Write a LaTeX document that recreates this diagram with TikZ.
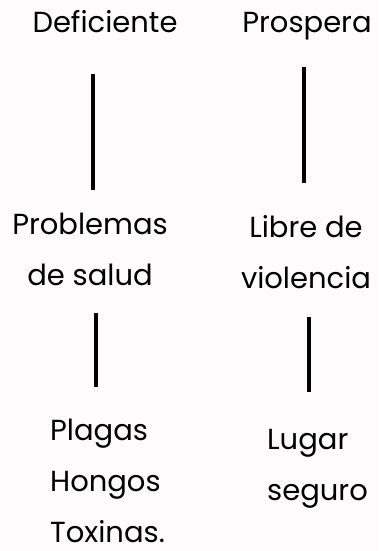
\documentclass[tikz,border=0pt]{standalone}
\usepackage{fontspec}
\setmainfont{Poppins}
\usepackage{tikz}
\definecolor{fondo}{HTML}{FFFBFC}

\begin{document}
\begin{tikzpicture}[x=1pt,y=-1pt,
				texto/.style={anchor=base,inner sep=0,font=\fontsize{29}{51}\selectfont},
				barra/.style={line width=4}]
				\fill[fondo] (0,0) rectangle (378,551);
				
				% la base es la de la ultima linea
				\node[texto] (deficiente) at (105,33) {Deficiente};
				\node[texto] (prospera) at (307,33) {Prospera};
				\node[texto,align=center] (problemas) at (90,285) {Problemas\\de salud};
				\node[texto,align=center] (libre) at (306,288) {Libre de\\violencia};
				\node[texto,align=left,anchor=base west] (plagas) at (50,542) {Plagas\\Hongos\\Toxinas.};
				\node[texto,align=left,anchor=base west] (lugar) at (267,500) {Lugar\\seguro};
				
				\coordinate (d1) at (93,74);
				\coordinate (d2) at (93,190);
				\coordinate (p1) at (304,67);
				\coordinate (p2) at (304,183);
				\coordinate (s1) at (96,313);
				\coordinate (s2) at (96,387);
				\coordinate (v1) at (309,317);
				\coordinate (v2) at (309,392);
				
				\draw[barra] (d1) -- (d2);
				\draw[barra] (p1) -- (p2);
				\draw[barra] (s1) -- (s2);
				\draw[barra] (v1) -- (v2);
			\end{tikzpicture}
\end{document}
